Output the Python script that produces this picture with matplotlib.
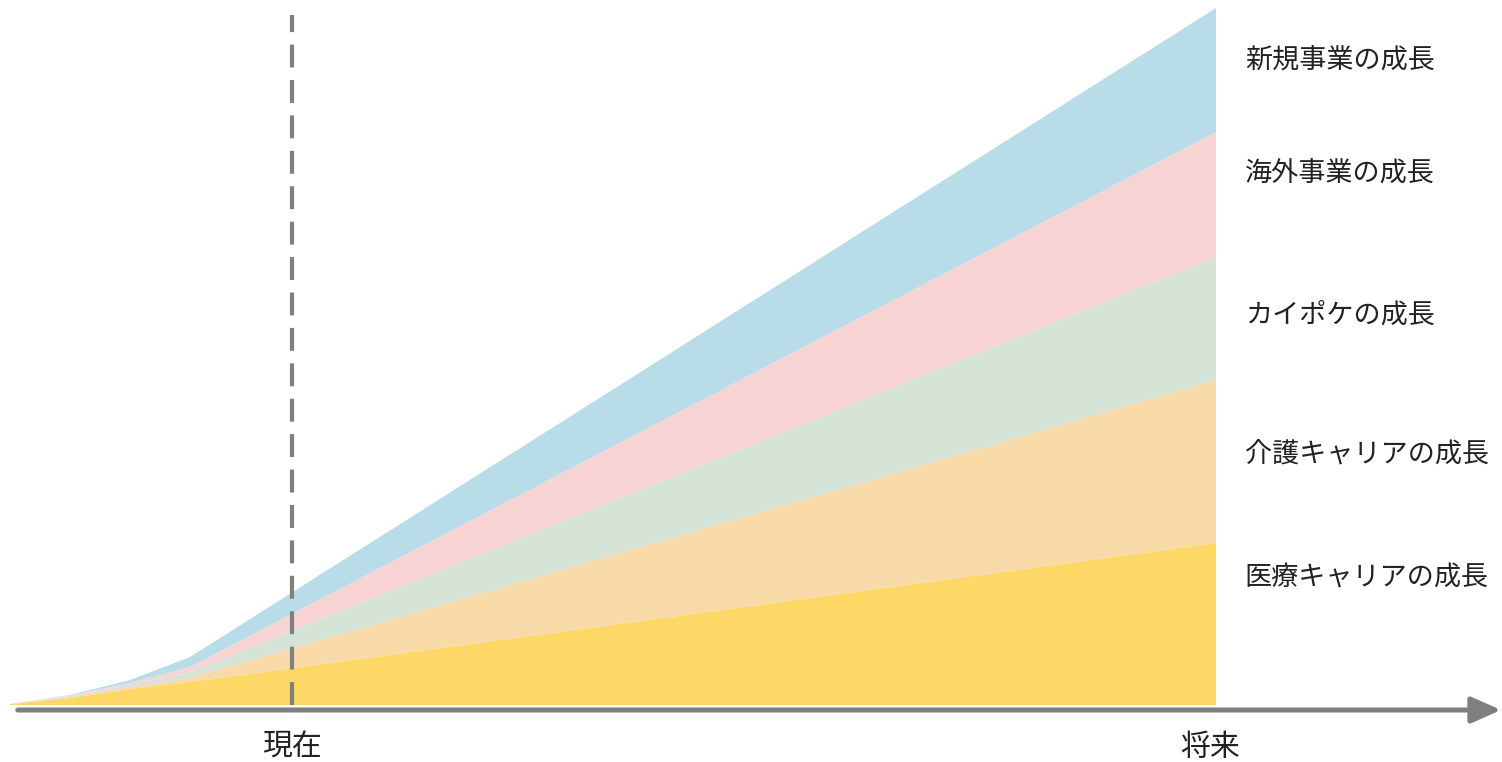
import numpy as np
import matplotlib
matplotlib.use('Agg')
import matplotlib.pyplot as plt

plt.rcParams['font.family'] = ['Noto Sans CJK JP', 'DejaVu Sans']

# time axis (arbitrary units); "now" marker and the far end ("future")
x = [0, 1, 2, 3, 20.1]
now_x = 4.7
future_x = 20.0

# stacked layers, bottom to top
iryo = [1, 7, 16, 23, 162]       # 医療キャリア
kaigo = [0, 1, 2, 4, 163]        # 介護キャリア
kaipoke = [0, 1, 2, 6, 123]      # カイポケ
kaigai = [0, 0.5, 2, 5, 125]     # 海外事業
shinki = [0, 0.5, 3, 10, 124]    # 新規事業

layer_names = ['医療キャリアの成長', '介護キャリアの成長', 'カイポケの成長',
               '海外事業の成長', '新規事業の成長']
layer_colors = ['#FDD866', '#F8D9A8', '#D5E3D6', '#F8D3D4', '#B8DCE8']
label_y = [127, 250, 390, 532, 645]

fig = plt.figure(figsize=(15.02, 7.62), dpi=100)
ax = fig.add_axes([0, 0, 1, 1])

ax.stackplot(x, iryo, kaigo, kaipoke, kaigai, shinki,
             colors=layer_colors, linewidth=0)

for name, y in zip(layer_names, label_y):
    ax.text(20.58, y, name, fontsize=19.5, va='center', ha='left', color='#222222')

# vertical "now" line
ax.plot([now_x, now_x], [0, 690], color='#7f7f7f', lw=3, dashes=(5.5, 3))

# horizontal axis arrow
ax.annotate('', xy=(24.85, -5), xytext=(0.13, -5),
            arrowprops=dict(arrowstyle='-|>,head_length=0.9,head_width=0.4',
                            color='#7f7f7f', lw=3.6, mutation_scale=20,
                            shrinkA=0, shrinkB=0))

ax.text(now_x, -42, '現在', fontsize=21.5, ha='center', va='center', color='#222222')
ax.text(future_x, -42, '将来', fontsize=21.5, ha='center', va='center', color='#222222')

ax.set_xlim(-10 / 60, 1492 / 60)
ax.set_ylim(-57, 705)
ax.axis('off')

fig.savefig('out.png', dpi=100)
